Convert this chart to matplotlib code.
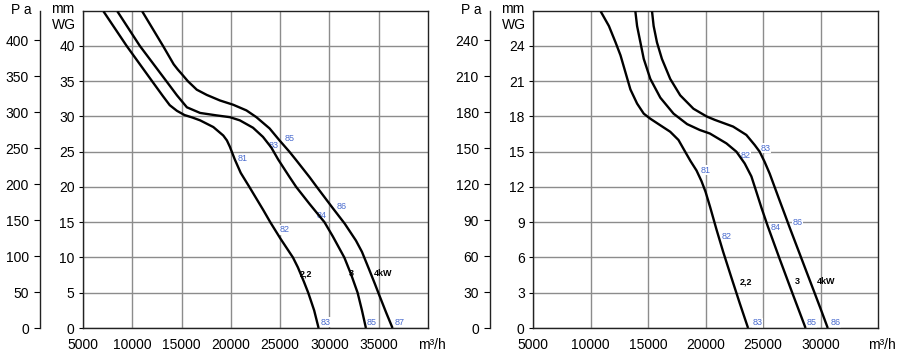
import numpy as np
import matplotlib.pyplot as plt

plt.rcParams['font.family'] = ['Liberation Sans', 'DejaVu Sans']

PA_PER_MM = 9.81
BLUE = '#4a6ccf'

# === Left chart: fan curves (airflow m3/h vs pressure mmWG) ===
left_22_q = [7080, 9430, 12010, 13100, 13800, 14530, 15300, 16100, 16880, 18220, 19230, 19600, 19900,
             20400, 21000, 21880, 23300, 24000, 25020, 26300, 26800, 27400, 27850, 28450, 28900]
left_22_p = [44.9, 40.0, 35.0, 32.9, 31.6, 30.8, 30.2, 29.85, 29.45, 28.5, 27.3, 26.6, 25.7,
             23.9, 22.0, 20.0, 16.7, 15.0, 12.7, 10.0, 8.6, 6.6, 5.0, 2.5, 0.0]
left_3_q = [8490, 10770, 13460, 14530, 15540, 16880, 18560, 19900, 20910, 22250, 23260, 24100,
            24800, 25960, 26630, 27980, 29500, 30340, 31510, 32200, 32860, 33300, 33700]
left_3_p = [44.9, 40.0, 35.0, 33.0, 31.3, 30.5, 30.15, 29.9, 29.45, 28.4, 27.1, 25.6,
            23.9, 21.4, 20.0, 17.6, 15.0, 13.0, 10.0, 7.6, 5.0, 2.5, 0.0]
left_4_q = [11010, 13120, 14200, 14620, 15030, 15640, 16540, 17550, 18890, 20240, 21580, 22590, 23930,
            24940, 25940, 26630, 27980, 28720, 30340, 31550, 32690, 33300, 34000, 34600, 35100, 35750, 36400]
left_4_p = [44.9, 40.0, 37.4, 36.65, 36.0, 35.0, 33.8, 33.06, 32.27, 31.66, 30.86, 29.9, 28.3,
            26.6, 25.0, 23.8, 21.4, 20.0, 17.0, 14.8, 12.4, 10.8, 8.4, 6.3, 4.5, 2.2, 0.0]

left_db_text = ['81', '83', '85', '82', '84', '86', '83', '85', '87']
left_db_q = [21180, 24360, 25930, 25460, 29160, 31280, 29600, 34310, 37150]
left_db_p = [24.0, 25.9, 26.9, 13.9, 16.0, 17.2, 0.8, 0.8, 0.8]

left_kw_text = ['2,2', '3', '4kW']
left_kw_q = [27580, 32190, 35490]
left_kw_p = [7.6, 7.8, 7.7]

# === Right chart ===
right_22_q = [10880, 11600, 12180, 12610, 13040, 13470, 14050, 14630, 15200, 16070, 16930, 17650, 18230,
              18700, 19220, 19650, 20000, 20400, 20950, 21530, 22250, 22980, 23700]
right_22_p = [26.95, 25.7, 24.3, 23.2, 21.75, 20.3, 19.1, 18.24, 17.81, 17.25, 16.7, 16.0, 15.0,
              14.2, 13.4, 12.5, 11.6, 10.3, 8.4, 6.5, 4.3, 2.1, 0.0]
right_3_q = [13900, 14050, 14340, 14630, 15200, 16070, 17220, 18400, 19500, 20380, 21820, 22690, 23410,
             23990, 24420, 24860, 25400, 26440, 27600, 28700]
right_3_p = [26.95, 25.7, 24.3, 22.9, 21.2, 19.6, 18.24, 17.35, 16.85, 16.55, 15.71, 15.0, 14.0,
             12.9, 11.6, 10.25, 8.7, 5.9, 2.85, 0.0]
right_4_q = [15350, 15490, 15780, 16210, 16930, 17800, 18950, 20100, 20810, 22400, 23550, 24280, 24710,
             25140, 25580, 26010, 26440, 26880, 27310, 28000, 28700, 29480, 30100, 30630]
right_4_p = [26.95, 25.7, 24.3, 22.9, 21.2, 19.8, 18.66, 18.0, 17.71, 17.14, 16.43, 15.57, 15.0,
             14.14, 13.14, 12.0, 10.86, 9.71, 8.57, 6.8, 5.0, 3.0, 1.4, 0.0]

right_db_text = ['81', '82', '83', '82', '84', '86', '83', '85', '86']
right_db_q = [20000, 23500, 25230, 21820, 26100, 28030, 24510, 29190, 31300]
right_db_p = [13.43, 14.69, 15.29, 7.77, 8.51, 9.0, 0.46, 0.46, 0.46]

right_kw_text = ['2,2', '3', '4kW']
right_kw_q = [23500, 27950, 30490]
right_kw_p = [3.92, 3.92, 3.92]

panels = [
    dict(left=83, right=428, xlim=(5000, 40000), xticks=range(5000, 40000, 5000),
         ylim=(0, 45), yticks=range(0, 45, 5), pa_ticks=range(0, 401, 50),
         curves=[(left_22_q, left_22_p), (left_3_q, left_3_p), (left_4_q, left_4_p)],
         db=(left_db_text, left_db_q, left_db_p), kw=(left_kw_text, left_kw_q, left_kw_p)),
    dict(left=533, right=878, xlim=(5000, 35000), xticks=range(5000, 35000, 5000),
         ylim=(0, 27), yticks=range(0, 27, 3), pa_ticks=range(0, 241, 30),
         curves=[(right_22_q, right_22_p), (right_3_q, right_3_p), (right_4_q, right_4_p)],
         db=(right_db_text, right_db_q, right_db_p), kw=(right_kw_text, right_kw_q, right_kw_p)),
]

W, H = 900, 354
fig = plt.figure(figsize=(W / 100, H / 100), dpi=100)

for pnl in panels:
    x0 = pnl['left'] / W
    w = (pnl['right'] - pnl['left']) / W
    y0 = 1 - 328 / H
    h = (328 - 10.7) / H
    ax = fig.add_axes([x0, y0, w, h])

    for q, p in pnl['curves']:
        ax.plot(q, p, color='black', lw=1.7, solid_joinstyle='round', solid_capstyle='butt', zorder=3)

    ax.set_xlim(*pnl['xlim'])
    ax.set_ylim(*pnl['ylim'])
    ax.set_xticks(list(pnl['xticks']))
    ax.set_yticks(list(pnl['yticks']))
    ax.grid(True, color='#8c8c8c', lw=1.0)
    ax.set_axisbelow(True)
    for s in ax.spines.values():
        s.set_color('#222222')
        s.set_linewidth(1.0)
    ax.tick_params(axis='y', length=3, width=0.8, pad=3, labelsize=10)
    ax.tick_params(axis='x', length=0, pad=7, labelsize=10)

    # sound level labels (dB) and motor power labels
    txt, tq, tp = pnl['db']
    for t, q, p in zip(txt, tq, tp):
        ax.text(q, p, t, color=BLUE, fontsize=6.5, ha='center', va='center', zorder=2.5,
                bbox=dict(facecolor='white', edgecolor='none', pad=0.3))
    txt, tq, tp = pnl['kw']
    for t, q, p in zip(txt, tq, tp):
        ax.text(q, p, t, color='black', fontsize=6.5, fontweight='bold', ha='center', va='center', zorder=2.5)

    # Pa scale
    sec = ax.secondary_yaxis(-43 / (pnl['right'] - pnl['left']),
                             functions=(lambda mm: mm * PA_PER_MM, lambda pa: pa / PA_PER_MM))
    sec.set_yticks(list(pnl['pa_ticks']))
    sec.tick_params(length=4, width=0.8, pad=4, labelsize=10)
    sec.spines['left'].set_color('#222222')
    sec.spines['left'].set_linewidth(1.0)

    xl = pnl['left']
    fig.text((xl - 62) / W, 1 - 10 / H, 'P a', fontsize=10, ha='center', va='center')
    fig.text((xl - 20) / W, 1 - 9 / H, 'mm', fontsize=10, ha='center', va='center')
    fig.text((xl - 19) / W, 1 - 25 / H, 'WG', fontsize=10, ha='center', va='center')
    fig.text((pnl['right'] - 10) / W, 1 - 345 / H, 'm³/h', fontsize=10, ha='left', va='center')

fig.savefig('out.png', dpi=100)
